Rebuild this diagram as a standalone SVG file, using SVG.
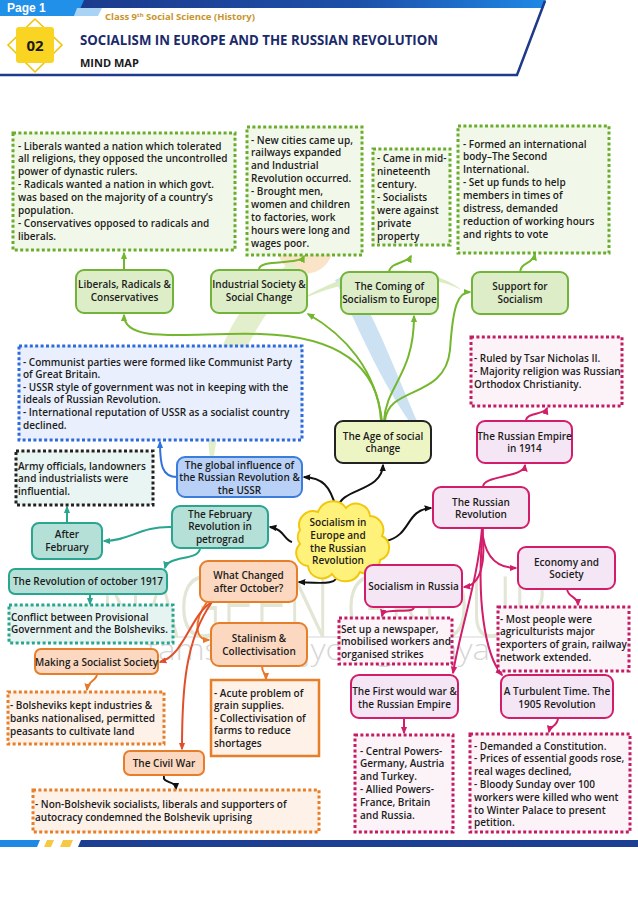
<svg xmlns="http://www.w3.org/2000/svg" width="638" height="902" viewBox="0 0 638 902">
<defs>
<style>
.t{font-family:"Open Sans","Liberation Sans",sans-serif;font-weight:600;font-size:10px;fill:#1c1c1c}
.c{text-anchor:middle}
.ng{fill:#dcedc8;stroke:#72b33a;stroke-width:2}
.bg{fill:#f2f8e9;stroke:#6aad2c;stroke-width:3;stroke-dasharray:3 2.4}
.nb{fill:#b9d0f7;stroke:#3b7ddd;stroke-width:2}
.bb{fill:#e9effc;stroke:#2c6bdc;stroke-width:3;stroke-dasharray:3 2.4}
.nt{fill:#b4e0d7;stroke:#2aa58f;stroke-width:2}
.bt{fill:#e6f4f1;stroke:#2aa58f;stroke-width:3;stroke-dasharray:3 2.4}
.bk{fill:#e9f5f2;stroke:#222;stroke-width:3;stroke-dasharray:3 2.4}
.no{fill:#fbd8bf;stroke:#e67e2a;stroke-width:2}
.bo{fill:#fdf1e8;stroke:#e67e2a;stroke-width:3;stroke-dasharray:3 2.4}
.nm{fill:#f5e6f5;stroke:#d21e6a;stroke-width:2}
.bm{fill:#fbf3f8;stroke:#c41c62;stroke-width:3;stroke-dasharray:3 2.4}
.l{fill:none;stroke-width:2}
.lg{stroke:#74b72e;marker-end:url(#ag)}
.lk{stroke:#111;marker-end:url(#ak)}
.lb{stroke:#2f72dd;marker-end:url(#ab)}
.lt{stroke:#2aa58f;marker-end:url(#at)}
.lo{stroke:#e8782a;marker-end:url(#ao)}
.lr{stroke:#e04e2a;marker-end:url(#ar)}
.lm{stroke:#d21e6a;marker-end:url(#am)}
</style>
<linearGradient id="band" x1="0" y1="0" x2="1" y2="0">
<stop offset="0" stop-color="#1c3a8c"/><stop offset="0.6" stop-color="#1d4fa8"/><stop offset="1" stop-color="#1e88e5"/>
</linearGradient>
<marker id="ag" viewBox="0 0 10 10" refX="8" refY="5" markerWidth="8" markerHeight="8" markerUnits="userSpaceOnUse" orient="auto"><path d="M0,1 L10,5 L0,9 z" fill="#74b72e"/></marker>
<marker id="ak" viewBox="0 0 10 10" refX="8" refY="5" markerWidth="8" markerHeight="8" markerUnits="userSpaceOnUse" orient="auto"><path d="M0,1 L10,5 L0,9 z" fill="#111"/></marker>
<marker id="ab" viewBox="0 0 10 10" refX="8" refY="5" markerWidth="8" markerHeight="8" markerUnits="userSpaceOnUse" orient="auto"><path d="M0,1 L10,5 L0,9 z" fill="#2f72dd"/></marker>
<marker id="at" viewBox="0 0 10 10" refX="8" refY="5" markerWidth="8" markerHeight="8" markerUnits="userSpaceOnUse" orient="auto"><path d="M0,1 L10,5 L0,9 z" fill="#2aa58f"/></marker>
<marker id="ao" viewBox="0 0 10 10" refX="8" refY="5" markerWidth="8" markerHeight="8" markerUnits="userSpaceOnUse" orient="auto"><path d="M0,1 L10,5 L0,9 z" fill="#e8782a"/></marker>
<marker id="ar" viewBox="0 0 10 10" refX="8" refY="5" markerWidth="8" markerHeight="8" markerUnits="userSpaceOnUse" orient="auto"><path d="M0,1 L10,5 L0,9 z" fill="#e04e2a"/></marker>
<marker id="am" viewBox="0 0 10 10" refX="8" refY="5" markerWidth="8" markerHeight="8" markerUnits="userSpaceOnUse" orient="auto"><path d="M0,1 L10,5 L0,9 z" fill="#d21e6a"/></marker>
</defs>
<rect width="638" height="902" fill="#fff"/>

<g id="header">
<polygon points="74,0 546,0 543,8 74,8" fill="url(#band)"/>
<polygon points="0,0 84,0 77,16 0,16" fill="#2190e8"/>
<polygon points="77,8 102,8 98,16 74,16" fill="#a9d3f5"/>
<text x="7" y="12" font-family="'Liberation Sans',Arial,sans-serif" font-weight="700" font-size="12" fill="#fff">Page 1</text>
<polyline points="0,75 517,75 545,1" fill="none" stroke="#1f3a8a" stroke-width="2.5"/>
<text x="105" y="20" font-family="'Open Sans','Liberation Sans',sans-serif" font-weight="700" font-size="9.5" fill="#c9952c">Class 9<tspan font-size="6" dy="-3">th</tspan><tspan dy="3"> Social Science (History)</tspan></text>
<polygon points="35,19 62,45 35,72 8,45" fill="none" stroke="#f2c200" stroke-width="1.5"/>
<rect x="16" y="27" width="38" height="36" rx="3" fill="#f9d423"/>
<text x="35" y="51" text-anchor="middle" font-family="'Open Sans','Liberation Sans',sans-serif" font-weight="700" font-size="15" fill="#1a1a1a">02</text>
<text x="80" y="45" font-family="'Open Sans','Liberation Sans',sans-serif" font-weight="700" font-size="14.5" fill="#1b2a6b" textLength="358" lengthAdjust="spacingAndGlyphs">SOCIALISM IN EUROPE AND THE RUSSIAN REVOLUTION</text>
<text x="80" y="67" font-family="'Open Sans','Liberation Sans',sans-serif" font-weight="700" font-size="11" fill="#1a1a1a">MIND MAP</text>
</g>

<g id="logo" opacity="0.45">
<circle cx="305" cy="246" r="28" fill="#f6c486"/>
<path d="M292,262 C230,300 195,380 212,470 C222,390 250,320 302,274 Z" fill="#c2dc8e"/>
<path d="M335,280 C360,330 385,395 428,446 C398,380 378,320 348,274 Z" fill="#8fc0e6"/>
<path d="M300,300 C350,268 420,258 462,290 C420,270 360,274 300,300 Z" fill="#b5d47a"/>
</g>

<g id="watermark" opacity="0.4">
<line x1="95" y1="637" x2="560" y2="637" stroke="#9a9a9a" stroke-width="1.2"/>
<text x="100" y="637" font-family="'Open Sans','Liberation Sans',sans-serif" font-weight="300" font-size="84" fill="#b7c199" textLength="447" lengthAdjust="spacingAndGlyphs">NAGEEN GROUP</text>
<text x="147" y="660" font-family="'Open Sans','Liberation Sans',sans-serif" font-weight="300" font-size="30" fill="#9a9a9a" textLength="343" lengthAdjust="spacingAndGlyphs">tamso ma jyotirgamaya</text>
</g>

<g id="connectors" class="l">
<path class="l lg" d="M124,270 L124,253"/>
<path class="l lg" d="M259,270 C258,258 300,266 304,256"/>
<path class="l lg" d="M389,272 C390,262 408,263 411,256"/>
<path class="l lg" d="M520,272 C521,262 533,264 535,254"/>
<path class="l lg" d="M381,421 C378,360 330,336 260,334 C190,332 124,345 124,315"/>
<path class="l lg" d="M382,421 C376,370 345,335 308,314"/>
<path class="l lg" d="M384,421 C386,385 414,375 414,316"/>
<path class="l lg" d="M385,421 C388,385 445,400 450,350 C453,305 458,292 470,292"/>
<path class="l lk" d="M338,508 C340,488 382,492 383,465"/>
<path class="l lk" d="M336,508 C330,485 322,478 304,477"/>
<path class="l lk" d="M292,542 C284,540 284,529 270,527"/>
<path class="l lk" d="M386,541 C412,535 405,510 431,508"/>
<path class="l lk" d="M338,572 C340,586 320,583 299,582"/>
<path class="l lk" d="M164,776 C162,784 176,780 176,789"/>
<path class="l lb" d="M177,477 C162,477 160,465 160,442"/>
<path class="l lt" d="M67,523 L67,507"/>
<path class="l lt" d="M172,527 C140,526 130,541 104,541"/>
<path class="l lt" d="M200,548 C200,561 168,555 165,568"/>
<path class="l lt" d="M90,594 L90,604"/>
<path class="l lo" d="M207,602 C194,620 194,640 209,640"/>
<path class="l lo" d="M262,666 C262,674 266,672 266,679"/>
<path class="l lo" d="M97,674 C97,681 88,680 87,690"/>
<path class="l lr" d="M212,602 C190,615 185,655 160,662"/>
<path class="l lr" d="M212,602 C185,640 182,690 182,749"/>
<path class="l lm" d="M483,487 C483,475 524,478 525,465"/>
<path class="l lm" d="M526,421 C526,412 545,415 547,408"/>
<path class="l lm" d="M482,528 C484,560 500,568 516,568"/>
<path class="l lm" d="M482,528 C486,560 482,585 464,587"/>
<path class="l lm" d="M482,528 C478,580 460,630 453,673"/>
<path class="l lm" d="M483,528 C476,600 485,655 502,675"/>
<path class="l lm" d="M414,607 C414,615 384,606 382,616"/>
<path class="l lm" d="M567,589 C568,598 578,596 578,605"/>
<path class="l lm" d="M404,718 L404,733"/>
<path class="l lm" d="M558,718 C558,726 550,726 549,732"/>
</g>

<g id="liberals-box"><rect class="bg" x="13" y="133" width="222" height="117"/>
<text class="t"><tspan x="18" y="149.5">- Liberals wanted a nation which tolerated</tspan><tspan x="18" y="162.4">all religions, they opposed the uncontrolled</tspan><tspan x="18" y="175.3">power of dynastic rulers.</tspan><tspan x="18" y="188.2">- Radicals wanted a nation in which govt.</tspan><tspan x="18" y="201.1">was based on the majority of a country’s</tspan><tspan x="18" y="214">population.</tspan><tspan x="18" y="226.9">- Conservatives opposed to radicals and</tspan><tspan x="18" y="239.8">liberals.</tspan></text></g>

<g id="industrial-box"><rect class="bg" x="247" y="127" width="115" height="128"/>
<text class="t"><tspan x="251" y="143.5">- New cities came up,</tspan><tspan x="251" y="156.4">railways expanded</tspan><tspan x="251" y="169.3">and Industrial</tspan><tspan x="251" y="182.2">Revolution occurred.</tspan><tspan x="251" y="195.1">- Brought men,</tspan><tspan x="251" y="208">women and children</tspan><tspan x="251" y="220.9">to factories, work</tspan><tspan x="251" y="233.8">hours were long and</tspan><tspan x="251" y="246.7">wages poor.</tspan></text></g>

<g id="coming-box"><rect class="bg" x="373" y="149" width="77" height="96"/>
<text class="t"><tspan x="377" y="161.5">- Came in mid-</tspan><tspan x="377" y="174.5">nineteenth</tspan><tspan x="377" y="187.5">century.</tspan><tspan x="377" y="200.5">- Socialists</tspan><tspan x="377" y="213.5">were against</tspan><tspan x="377" y="226.5">private</tspan><tspan x="377" y="239.5">property</tspan></text></g>

<g id="support-box"><rect class="bg" x="458" y="126" width="151" height="127"/>
<text class="t"><tspan x="463" y="147.5">- Formed an international</tspan><tspan x="463" y="160.4">body–The Second</tspan><tspan x="463" y="173.3">International.</tspan><tspan x="463" y="186.2">- Set up funds to help</tspan><tspan x="463" y="199.1">members in times of</tspan><tspan x="463" y="212">distress, demanded</tspan><tspan x="463" y="224.9">reduction of working hours</tspan><tspan x="463" y="237.8">and rights to vote</tspan></text></g>

<g id="liberals"><rect class="ng" x="76" y="270" width="97" height="43" rx="8"/>
<text class="t c"><tspan x="124.5" y="287.5">Liberals, Radicals &amp;</tspan><tspan x="124.5" y="300.5">Conservatives</tspan></text></g>
<g id="industrial"><rect class="ng" x="211" y="270" width="96" height="43" rx="8"/>
<text class="t c"><tspan x="259" y="287.5">Industrial Society &amp;</tspan><tspan x="259" y="300.5">Social Change</tspan></text></g>
<g id="coming"><rect class="ng" x="341" y="272" width="97" height="42" rx="8"/>
<text class="t c"><tspan x="389.5" y="289.5">The Coming of</tspan><tspan x="389.5" y="302.5">Socialism to Europe</tspan></text></g>
<g id="support"><rect class="ng" x="472" y="272" width="96" height="42" rx="8"/>
<text class="t c"><tspan x="520" y="289.5">Support for</tspan><tspan x="520" y="302.5">Socialism</tspan></text></g>

<g id="age"><rect x="335" y="421" width="96" height="42" rx="8" fill="#eef5c4" stroke="#222" stroke-width="2"/>
<text class="t c"><tspan x="383" y="439.5">The Age of social</tspan><tspan x="383" y="451.5">change</tspan></text></g>

<g id="communist-box"><rect class="bb" x="19" y="346" width="283" height="94"/>
<text class="t"><tspan x="23" y="365.5">- Communist parties were formed like Communist Party</tspan><tspan x="23" y="378.1">of Great Britain.</tspan><tspan x="23" y="390.7">- USSR style of government was not in keeping with the</tspan><tspan x="23" y="403.3">ideals of Russian Revolution.</tspan><tspan x="23" y="415.9">- International reputation of USSR as a socialist country</tspan><tspan x="23" y="428.5">declined.</tspan></text></g>

<g id="global"><rect class="nb" x="177" y="457" width="125" height="40" rx="8"/>
<text class="t c"><tspan x="239.5" y="468.5">The global influence of</tspan><tspan x="239.5" y="481">the Russian Revolution &amp;</tspan><tspan x="239.5" y="493.5">the USSR</tspan></text></g>

<g id="army-box"><rect class="bk" x="16" y="451" width="137" height="54"/>
<text class="t"><tspan x="18" y="469.5">Army officials, landowners</tspan><tspan x="18" y="482.3">and industrialists were</tspan><tspan x="18" y="495.1">influential.</tspan></text></g>

<g id="february"><rect class="nt" x="172" y="506" width="96" height="42" rx="8"/>
<text class="t c"><tspan x="220" y="517.5">The February</tspan><tspan x="220" y="530">Revolution in</tspan><tspan x="220" y="542.5">petrograd</tspan></text></g>
<g id="after-february"><rect class="nt" x="32" y="523" width="70" height="36" rx="7"/>
<text class="t c"><tspan x="67" y="537.5">After</tspan><tspan x="67" y="550.5">February</tspan></text></g>
<g id="october"><rect class="nt" x="9" y="569" width="158" height="25" rx="6"/>
<text class="t c" x="88" y="584.5">The Revolution of october 1917</text></g>
<g id="conflict-box"><rect class="bt" x="9" y="605" width="164" height="38"/>
<text class="t"><tspan x="11" y="620.5">Conflict between Provisional</tspan><tspan x="11" y="633">Government  and the Bolsheviks.</tspan></text></g>

<g id="what-changed"><rect class="no" x="200" y="561" width="97" height="41" rx="8"/>
<text class="t c"><tspan x="248.5" y="578.5">What Changed</tspan><tspan x="248.5" y="591.5">after October?</tspan></text></g>
<g id="stalinism"><rect class="no" x="211" y="623" width="96" height="43" rx="8"/>
<text class="t c"><tspan x="259" y="641.5">Stalinism &amp;</tspan><tspan x="259" y="654.5">Collectivisation</tspan></text></g>
<g id="making"><rect class="no" x="35" y="649" width="123" height="25" rx="6"/>
<text class="t c" x="96.5" y="665.5">Making a Socialist Society</text></g>
<g id="civil-war"><rect class="no" x="124" y="751" width="80" height="24" rx="6"/>
<text class="t c" x="164" y="766.5">The Civil War</text></g>
<g id="bolsheviks-box"><rect class="bo" x="8" y="692" width="156" height="52"/>
<text class="t"><tspan x="10" y="708.5">- Bolsheviks kept industries &amp;</tspan><tspan x="10" y="721.5">banks nationalised, permitted</tspan><tspan x="10" y="734.5">peasants to cultivate land</tspan></text></g>
<g id="acute-box"><rect x="211" y="680" width="108" height="76" fill="#fdf1e8" stroke="#e67e2a" stroke-width="2.5"/>
<text class="t"><tspan x="214" y="696.5">- Acute problem of</tspan><tspan x="214" y="709">grain supplies.</tspan><tspan x="214" y="721.5">- Collectivisation of</tspan><tspan x="214" y="734">farms to reduce</tspan><tspan x="214" y="746.5">shortages</tspan></text></g>
<g id="non-bolshevik-box"><rect class="bo" x="33" y="790" width="286" height="42"/>
<text class="t"><tspan x="35" y="807.5">- Non-Bolshevik socialists, liberals and supporters of</tspan><tspan x="35" y="820.5">autocracy condemned the Bolshevik uprising</tspan></text></g>

<g id="center"><path d="M300,530 a14,14 0 0 1 18,-18 a16,16 0 0 1 28,-4 a14,14 0 0 1 24,8 a14,14 0 0 1 12,20 a13,13 0 0 1 -2,24 a14,14 0 0 1 -20,12 a16,16 0 0 1 -28,2 a14,14 0 0 1 -24,-8 a13,13 0 0 1 -8,-22 a12,12 0 0 1 0,-14 z" fill="#fff27a" stroke="#f2c80f" stroke-width="2"/>
<text class="t c"><tspan x="338" y="525.5">Socialism in</tspan><tspan x="338" y="538.5">Europe and</tspan><tspan x="338" y="551.5">the Russian</tspan><tspan x="338" y="564">Revolution</tspan></text></g>

<g id="russian-revolution"><rect class="nm" x="433" y="487" width="96" height="41" rx="8"/>
<text class="t c"><tspan x="481" y="505.5">The Russian</tspan><tspan x="481" y="517.5">Revolution</tspan></text></g>
<g id="russian-empire"><rect class="nm" x="477" y="421" width="95" height="42" rx="8"/>
<text class="t c"><tspan x="524.5" y="439.5">The Russian Empire</tspan><tspan x="524.5" y="451.5">in 1914</tspan></text></g>
<g id="tsar-box"><rect class="bm" x="471" y="337" width="151" height="69"/>
<text class="t"><tspan x="474" y="361.5">- Ruled by Tsar Nicholas II.</tspan><tspan x="474" y="375">- Majority religion was Russian</tspan><tspan x="474" y="387.5">Orthodox Christianity.</tspan></text></g>
<g id="economy"><rect class="nm" x="518" y="547" width="97" height="42" rx="8"/>
<text class="t c"><tspan x="566.5" y="565.5">Economy and</tspan><tspan x="566.5" y="577.5">Society</tspan></text></g>
<g id="most-box"><rect class="bm" x="498" y="607" width="131" height="64"/>
<text class="t"><tspan x="500" y="622.5">- Most people were</tspan><tspan x="500" y="635.3">agriculturists major</tspan><tspan x="500" y="648.1">exporters of grain, railway</tspan><tspan x="500" y="660.9">network extended.</tspan></text></g>
<g id="socialism-russia"><rect class="nm" x="365" y="565" width="97" height="42" rx="8"/>
<text class="t c" x="413.5" y="589.5">Socialism in Russia</text></g>
<g id="setup-box"><rect class="bm" x="339" y="618" width="113" height="46"/>
<text class="t"><tspan x="341" y="632.5">Set up a newspaper,</tspan><tspan x="341" y="645">mobilised workers and</tspan><tspan x="341" y="657.5">organised strikes</tspan></text></g>
<g id="first-war"><rect class="nm" x="351" y="675" width="107" height="43" rx="8"/>
<text class="t c"><tspan x="404.5" y="694.5">The First would war &amp;</tspan><tspan x="404.5" y="707.5">the Russian Empire</tspan></text></g>
<g id="turbulent"><rect class="nm" x="501" y="675" width="112" height="43" rx="8"/>
<text class="t c"><tspan x="557" y="694.5">A Turbulent Time. The</tspan><tspan x="557" y="707.5">1905 Revolution</tspan></text></g>
<g id="central-box"><rect class="bm" x="355" y="735" width="98" height="97"/>
<text class="t"><tspan x="360" y="754.5">- Central Powers-</tspan><tspan x="360" y="767.3">Germany, Austria</tspan><tspan x="360" y="780.1">and Turkey.</tspan><tspan x="360" y="792.9">- Allied Powers-</tspan><tspan x="360" y="805.7">France,  Britain</tspan><tspan x="360" y="818.5">and Russia.</tspan></text></g>
<g id="demanded-box"><rect class="bm" x="470" y="734" width="160" height="98"/>
<text class="t"><tspan x="474" y="749.5">- Demanded a Constitution.</tspan><tspan x="474" y="762.3">- Prices of essential goods rose,</tspan><tspan x="474" y="775.1">real wages declined,</tspan><tspan x="474" y="787.9">- Bloody Sunday over 100</tspan><tspan x="474" y="800.7">workers were killed who went</tspan><tspan x="474" y="813.5">to Winter Palace to present</tspan><tspan x="474" y="826.3">petition.</tspan></text></g>

<g id="footer">
<polygon points="0,840 40,840 37,847 0,847" fill="#1e88e5"/>
<polygon points="47,840 54,840 51,847 44,847" fill="#f6c945"/>
<polygon points="63,840 73,840 70,847 60,847" fill="#f6c945"/>
<polygon points="81,840 638,840 638,847 78,847" fill="#1c3f94"/>
</g>
</svg>
